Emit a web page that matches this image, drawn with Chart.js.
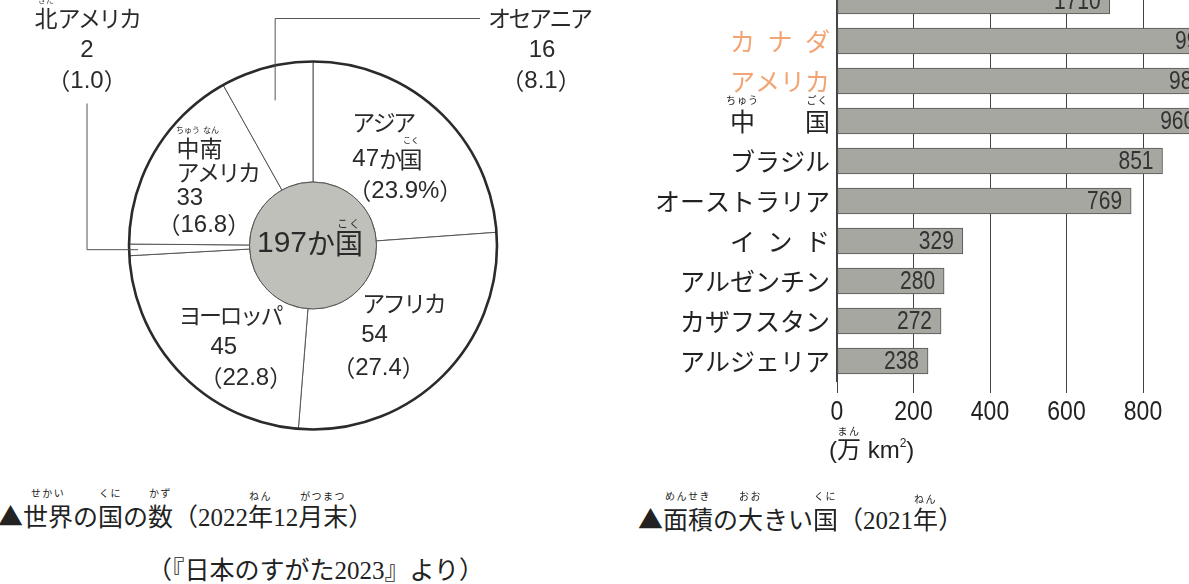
<!DOCTYPE html>
<html><head><meta charset="utf-8">
<script src="https://cdn.jsdelivr.net/npm/chart.js@4.4.1/dist/chart.umd.min.js"></script>
<style>
html,body{margin:0;padding:0;background:#fff;}
body{width:1189px;height:584px;overflow:hidden;position:relative;}
canvas{position:absolute;}
#pie{left:0;top:0;}
#bar{left:600px;top:-60px;}
.cap{position:absolute;white-space:nowrap;color:#222;font-family:"Noto Sans CJK JP",sans-serif;font-size:25px;line-height:30px;}
.serif{font-family:"Liberation Serif","Noto Sans CJK JP",serif;}
.r{position:relative;display:inline-block;}
.r>i{position:absolute;left:50%;transform:translateX(-50%);top:-12px;font-style:normal;font-size:10px;line-height:10px;letter-spacing:1.5px;font-family:"Noto Sans CJK JP",sans-serif;white-space:nowrap;}
</style></head>
<body>
<canvas id="pie" width="620" height="460"></canvas>
<canvas id="bar" width="700" height="540"></canvas>
<div class="cap" style="left:829px;top:436px;font-family:'Liberation Sans','Noto Sans CJK JP',sans-serif;font-size:24px;line-height:28px;">(<span class="r">万<i style="top:-10px">まん</i></span> km<span style="font-size:12px;position:relative;top:-11px">2</span>)</div>
<div class="cap" style="left:-2px;top:500px;">▲<span class="r">世界<i>せかい</i></span>の<span class="r">国<i>くに</i></span>の<span class="r">数<i>かず</i></span><span class="serif">（2022<span class="r">年<i>ねん</i></span>12<span class="r">月末<i>がつまつ</i></span>）</span></div>
<div class="cap serif" style="left:147px;top:556px;">（『日本のすがた2023』より）</div>
<div class="cap" style="left:638px;top:503px;">▲<span class="r">面積<i>めんせき</i></span>の<span class="r">大<i>おお</i></span>きい<span class="r">国<i>くに</i></span><span class="serif">（2021<span class="r">年<i>ねん</i></span>）</span></div>
<script>
// ---- pie: number of countries in the world (end of 2022) ----
const continents = ['アジア','アフリカ','ヨーロッパ','北アメリカ','中南アメリカ','オセアニア'];
const countryCounts = [47, 54, 45, 2, 33, 16];
const countryShares = [23.9, 27.4, 22.8, 1.0, 16.8, 8.1];
const totalCountries = 197;

// ---- bars: largest countries by area (2021, 万km²) ----
const areaCountries = ['ロシア','カナダ','アメリカ','中国','ブラジル','オーストラリア','インド','アルゼンチン','カザフスタン','アルジェリア'];
const areaValues = [1710, 999, 983, 960, 851, 769, 329, 280, 272, 238];
const areaTicks = [0, 200, 400, 600, 800, 1000];
const highlighted = ['カナダ','アメリカ'];
const brokenBar = {name:'ロシア', shownUpTo:713}; // Russia's bar is drawn broken (shortened)

const ORANGE = '#f2a574';
const TEXT = '#2a2a2a';

// mixed latin / kana / kanji text drawing with ruby
function cls(ch){ const c = ch.charCodeAt(0); return c < 0x2000 ? 0 : (c >= 0x3040 && c <= 0x30ff ? 1 : 2); }
function runs(text){
  const out=[]; let cur='', k=null;
  for (const ch of text){
    const q = cls(ch);
    if (k===null || q===k){cur+=ch; k=q;} else {out.push([cur,k]); cur=ch; k=q;}
  }
  if (cur) out.push([cur,k]);
  return out;
}
function setRunFont(ctx, k, f){
  ctx.font = k===0 ? f.lat : f.cjk;
  ctx.letterSpacing = k===1 ? (f.kanaLS||0)+'px' : '0px';
}
function measureMixed(ctx, text, f){
  let w=0;
  for (const [t,k] of runs(text)){ setRunFont(ctx,k,f); w += ctx.measureText(t).width; }
  return w;
}
function drawSegs(ctx, segs, x, y, align, f){
  let total=0; for (const s of segs) total += measureMixed(ctx, s[0], f);
  let px = align==='left' ? x : align==='right' ? x-total : x-total/2;
  ctx.textBaseline='middle';
  for (const [t, rb] of segs){
    const w = measureMixed(ctx, t, f);
    let qx = px;
    ctx.textAlign='left';
    for (const [rt,k] of runs(t)){ setRunFont(ctx,k,f); ctx.fillText(rt, qx, y); qx += ctx.measureText(rt).width; }
    if (rb){
      ctx.font = f.ruby; ctx.textAlign='center';
      ctx.letterSpacing = (f.rubyLS||0)+'px';
      ctx.fillText(rb, px + w/2, y + f.rubyDy);
    }
    ctx.letterSpacing = '0px';
    px += w;
  }
}
const fLabel = {lat:'24px "Liberation Sans"', cjk:'23px "Noto Sans CJK JP"', kanaLS:-2.5, ruby:'8px "Noto Sans CJK JP"', rubyDy:-19, rubyLS:0};
const fCenter = {lat:'30px "Liberation Sans"', cjk:'28px "Noto Sans CJK JP"', kanaLS:0, ruby:'11px "Noto Sans CJK JP"', rubyDy:-20, rubyLS:1};

const share = i => '（' + countryShares[i].toFixed(1) + (i===0 ? '%' : '') + '）';

const piePlugin = {
  id:'pieDecor',
  afterDatasetsDraw(chart){
    const ctx = chart.ctx;
    const arcs = chart.getDatasetMeta(0).data;
    const cx = arcs[0].x, cy = arcs[0].y, R = arcs[0].outerRadius, r = arcs[0].innerRadius;
    ctx.save();
    ctx.beginPath(); ctx.arc(cx,cy,R,0,Math.PI*2); ctx.lineWidth=2.6; ctx.strokeStyle='#2b2b2b'; ctx.stroke();
    ctx.beginPath(); ctx.arc(cx,cy,r,0,Math.PI*2); ctx.fillStyle='#bfc0ba'; ctx.fill();
    ctx.lineWidth=1; ctx.strokeStyle='#555'; ctx.stroke();
    ctx.fillStyle = TEXT;
    drawSegs(ctx, [[totalCountries+'か'],['国','こく']], cx-3, cy-2, 'center', fCenter);

    const mid = a => (a.startAngle + a.endAngle)/2;
    const at = (a, rho) => ({x: cx + rho*Math.cos(mid(a)), y: cy + rho*Math.sin(mid(a))});
    const c = i => at(arcs[i], (R + r)/2);

    // inner labels (left-anchored, offsets from slice centre)
    const L = (i, lines) => { const p = c(i); lines.forEach(([segs,dx,dy]) => drawSegs(ctx, segs, p.x+dx, p.y+dy, 'left', fLabel)); };
    L(0, [[[[continents[0]]], -45, -33], [[[countryCounts[0]+'か'],['国','こく']], -45, 4], [[[share(0)]], -49, 36]]);
    L(1, [[[[continents[1]]], -38, -30], [[[String(countryCounts[1])]], -39, 2], [[[share(1)]], -68, 35]]);
    L(2, [[[[continents[2]]], -46, -17], [[[String(countryCounts[2])]], -14, 15], [[[share(2)]], -25, 46]]);
    const cs = continents[4];
    L(4, [[[[cs[0],'ちゅう'],[cs[1],'なん']], -30, -34], [[[cs.slice(2)]], -30, -10], [[[String(countryCounts[4])]], -30, 16], [[[share(4)]], -49, 43]]);

    // leader lines
    ctx.lineWidth=1; ctx.strokeStyle='#555';
    const na = at(arcs[3], R-9);
    ctx.beginPath(); ctx.moveTo(na.x, na.y); ctx.lineTo(cx-226, na.y); ctx.lineTo(cx-226, cy-142); ctx.stroke();
    const oc = at(arcs[5], 150);
    ctx.beginPath(); ctx.moveTo(oc.x, oc.y); ctx.lineTo(oc.x, cy-227); ctx.lineTo(cx+167, cy-227); ctx.stroke();

    const na0 = continents[3];
    drawSegs(ctx, [[na0[0],'きた'],[na0.slice(1)]], cx-226, cy-227, 'center', fLabel);
    drawSegs(ctx, [[String(countryCounts[3])]], cx-226, cy-195, 'center', fLabel);
    drawSegs(ctx, [[share(3)]], cx-226, cy-164, 'center', fLabel);

    drawSegs(ctx, [[continents[5]]], cx+175, cy-227, 'left', fLabel);
    drawSegs(ctx, [[String(countryCounts[5])]], cx+229, cy-195, 'center', fLabel);
    drawSegs(ctx, [[share(5)]], cx+228, cy-164, 'center', fLabel);
    ctx.restore();
  }
};

new Chart(document.getElementById('pie'), {
  type:'doughnut',
  data:{labels:continents, datasets:[{data:countryCounts, backgroundColor:'#ffffff', borderColor:'#555', borderWidth:1, hoverOffset:0}]},
  options:{
    responsive:false, animation:false, radius:184, cutout:'34.5%',
    layout:{padding:{left:6, top:31, right:0, bottom:0}},
    plugins:{legend:{display:false}, tooltip:{enabled:false}}
  },
  plugins:[piePlugin]
});

const spaced = s => s.length===2 ? s[0]+'\u3000\u3000'+s[1] : s.length===3 ? s.split('').join('\u2002') : s;

// condensed (horizontally squeezed) Helvetica-like numerals, as in the source
function narrowText(ctx, text, x, y, align, size, squeeze){
  ctx.save();
  ctx.translate(x, y); ctx.scale(squeeze, 1);
  ctx.font = size + 'px "Liberation Sans"'; ctx.textAlign = align; ctx.textBaseline = 'middle';
  ctx.fillText(text, 0, 0);
  ctx.restore();
}

const barPlugin = {
  id:'barDecor',
  afterDatasetsDraw(chart){
    const ctx = chart.ctx; const meta = chart.getDatasetMeta(0);
    ctx.save();
    ctx.fillStyle='#333';
    meta.data.forEach((bar,i) => narrowText(ctx, String(areaValues[i]), bar.x-9, bar.y+1, 'right', 25, 0.84));
    // x tick labels
    const xs = chart.scales.x;
    ctx.fillStyle='#222';
    xs.ticks.forEach(t => narrowText(ctx, String(t.value), xs.getPixelForValue(t.value), xs.top + 31, 'center', 28, 0.82));
    // ruby over 中国
    const ys = chart.scales.y; const idx = areaCountries.indexOf('中国');
    const y = ys.getPixelForTick(idx);
    const right = ys.right - ys.options.ticks.padding;
    ctx.font='25px "Noto Sans CJK JP"';
    const w = ctx.measureText(spaced('中国')).width, em = ctx.measureText('中').width;
    ctx.font='10px "Noto Sans CJK JP"'; ctx.textAlign='center'; ctx.textBaseline='middle';
    ctx.letterSpacing='1px';
    ctx.fillText('ちゅう', right - w + em/2, y-21);
    ctx.fillText('ごく', right - em/2, y-21);
    ctx.restore();
  }
};

new Chart(document.getElementById('bar'), {
  type:'bar',
  data:{labels:areaCountries, datasets:[{
    data: areaCountries.map((c,i) => c===brokenBar.name ? brokenBar.shownUpTo : areaValues[i]),
    backgroundColor:'#a5a7a0', borderColor:'#555', borderWidth:1, borderSkipped:false, barThickness:26
  }]},
  options:{
    indexAxis:'y', responsive:false, animation:false,
    layout:{padding:{top:41, bottom:19, left:0, right:80.5}},
    plugins:{legend:{display:false}, tooltip:{enabled:false}},
    scales:{
      y:{
        grid:{display:false, drawTicks:false},
        border:{display:true, color:'#444', width:1.2},
        ticks:{autoSkip:false, padding:7, font:{family:'"Noto Sans CJK JP"', size:25},
          color: c => highlighted.includes(areaCountries[c.index]) ? ORANGE : '#222',
          callback(v){ const n = this.getLabelForValue(v); return n===brokenBar.name ? '' : spaced(n); }},
        afterFit(s){ s.width=237; s.paddingTop=0; s.paddingBottom=0; }
      },
      x:{
        min:areaTicks[0], max:areaTicks[areaTicks.length-1],
        afterBuildTicks(s){ s.ticks = areaTicks.map(v => ({value:v})); },
        grid:{color:'#444', lineWidth:1, tickLength:12, drawTicks:true},
        border:{display:false},
        ticks:{display:false},
        afterFit(s){ s.height=80; s.paddingLeft=0; s.paddingRight=0; }
      }
    }
  },
  plugins:[barPlugin]
});
</script>
</body></html>
